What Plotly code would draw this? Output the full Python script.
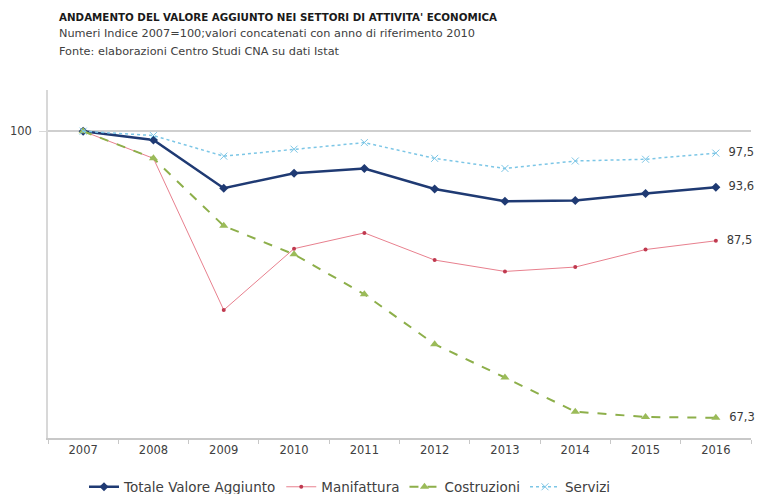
import plotly.graph_objects as go

years = ["2007", "2008", "2009", "2010", "2011", "2012", "2013", "2014", "2015", "2016"]
totale = [100, 99.0, 93.5, 95.2, 95.75, 93.4, 92.0, 92.1, 92.9, 93.6]
manifattura = [100, 96.9, 79.6, 86.6, 88.4, 85.3, 84.0, 84.5, 86.5, 87.5]
costruzioni = [100, 96.9, 89.2, 85.95, 81.4, 75.7, 71.9, 68.0, 67.4, 67.3]
servizi = [100, 99.5, 97.15, 97.95, 98.7, 96.9, 95.75, 96.6, 96.8, 97.5]

title = "ANDAMENTO DEL VALORE AGGIUNTO NEI SETTORI DI ATTIVITA' ECONOMICA"
sub1 = "Numeri Indice 2007=100;valori concatenati con anno di riferimento 2010"
sub2 = "Fonte: elaborazioni Centro Studi CNA su dati Istat"

FONT = "DejaVu Sans"

def lab(vals):
    return [""] * (len(vals) - 1) + ["  " + f"{vals[-1]:.1f}".replace(".", ",")]

LABFONT = dict(size=11.5, color="#3a3a3a")

fig = go.Figure()
fig.add_trace(go.Scatter(
    x=years, y=totale, name="Totale Valore Aggiunto", mode="lines+markers+text",
    line=dict(color="#1F3A73", width=2.5),
    marker=dict(symbol="diamond", size=7, color="#1F3A73"),
    text=lab(totale), textposition="middle right",
    textfont=LABFONT, cliponaxis=False))
fig.add_trace(go.Scatter(
    x=years, y=manifattura, name="Manifattura", mode="lines+markers+text",
    line=dict(color="#E8808E", width=1),
    marker=dict(symbol="circle", size=4, color="#C0394F"),
    text=lab(manifattura), textposition="middle right",
    textfont=LABFONT, cliponaxis=False))
fig.add_trace(go.Scatter(
    x=years, y=costruzioni, name="Costruzioni", mode="lines+markers+text",
    line=dict(color="#8DAF4A", width=2, dash="dash"),
    marker=dict(symbol="triangle-up", size=8, color="#9BBB59"),
    text=lab(costruzioni), textposition="middle right",
    textfont=LABFONT, cliponaxis=False))
fig.add_trace(go.Scatter(
    x=years, y=servizi, name="Servizi", mode="lines+markers+text",
    line=dict(color="#7CC6E6", width=1.5, dash="dot"),
    marker=dict(symbol="x-thin", size=7, color="#7CC6E6", line=dict(color="#7CC6E6", width=1)),
    text=lab(servizi), textposition="middle right",
    textfont=LABFONT, cliponaxis=False))

def py(p):
    return (438 - p) / 348.0

def px(p):
    return (p - 48) / 703.0

annots = [
    dict(text="<b>" + title + "</b>", x=px(57), y=py(17), font=dict(size=10.3, color="#1a1a1a")),
    dict(text=sub1, x=px(57), y=py(34), font=dict(size=11.3, color="#404040")),
    dict(text=sub2, x=px(57), y=py(51), font=dict(size=11.3, color="#404040")),
]
for a in annots:
    a.update(xref="paper", yref="paper", xanchor="left", yanchor="middle", showarrow=False)

fig.update_layout(
    width=758, height=494,
    margin=dict(l=48, r=7, t=90, b=56, autoexpand=False),
    paper_bgcolor="white", plot_bgcolor="white",
    font=dict(family=FONT, size=12, color="#404040"),
    showlegend=True,
    legend=dict(orientation="h", x=84 / 758, y=1 - 487 / 494, xref="container", yref="container",
                xanchor="left", yanchor="middle",
                font=dict(size=13.5, color="#404040"), itemwidth=30, tracegroupgap=0,
                bgcolor="rgba(0,0,0,0)"),
    annotations=annots,
    xaxis=dict(type="category", range=[-0.5, 9.5], showgrid=False,
               showline=True, linecolor="#C8C8C8", linewidth=1.5,
               ticks="outside", tickson="boundaries", ticklen=4, tickcolor="#C8C8C8",
               tickfont=dict(size=11.5, color="#404040"), fixedrange=True),
    yaxis=dict(range=[65, 104.7], tickvals=[100], ticktext=["100"],
               showgrid=True, gridcolor="#CFCFCF", gridwidth=2,
               showline=True, linecolor="#D8D8D8", linewidth=1.5,
               ticks="outside", ticklen=7, tickcolor="#D8D8D8",
               ticklabelstandoff=5, zeroline=False,
               tickfont=dict(size=11.5, color="#404040"), fixedrange=True),
)

fig.write_html("out.html")
